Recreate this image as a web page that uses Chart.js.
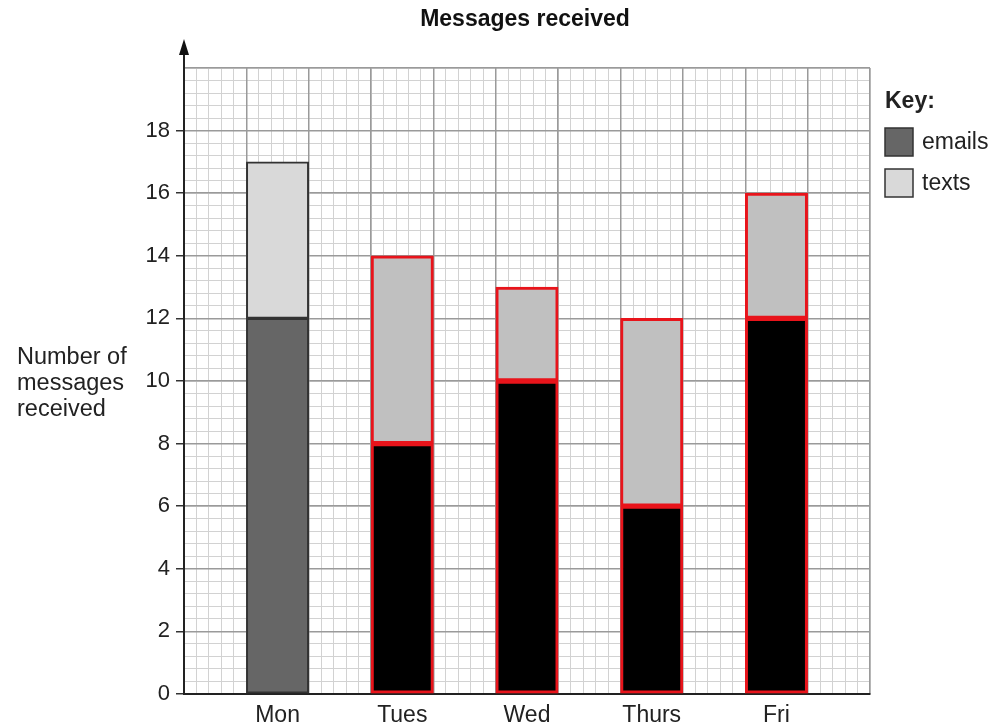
<!DOCTYPE html>
<html>
<head>
<meta charset="utf-8">
<script src="https://cdn.jsdelivr.net/npm/chart.js@4/dist/chart.umd.min.js"></script>
<style>
html,body{margin:0;padding:0;background:#fff;}
#wrap{width:1003px;height:728px;position:relative;}
</style>
</head>
<body>
<div id="wrap"><canvas id="c"></canvas></div>
<script>
// ---- data ----
const categories = ['Mon', 'Tues', 'Wed', 'Thurs', 'Fri'];
const emails = [12, 8, 10, 6, 12];
const texts = [5, 6, 3, 6, 4];
const yTickValues = [0, 2, 4, 6, 8, 10, 12, 14, 16, 18];
const chartTitle = 'Messages received';
const yTitleLines = ['Number of', 'messages', 'received'];
const keyTitle = 'Key:';
const keyLabels = ['emails', 'texts'];

// ---- layout helpers (slots: gap, bar, gap, bar ...) ----
const slotLabels = [];
const emailSlots = [];
const textSlots = [];
for (let i = 0; i < categories.length * 2 + 1; i++) {
  if (i % 2 === 1) {
    const k = (i - 1) / 2;
    slotLabels.push(categories[k]);
    emailSlots.push(emails[k]);
    textSlots.push(texts[k]);
  } else {
    slotLabels.push('');
    emailSlots.push(null);
    textSlots.push(null);
  }
}
const isGiven = (i) => i === 1; // Mon is the printed bar, others are drawn answers
const emailFill = slotLabels.map((_, i) => isGiven(i) ? '#666666' : '#000000');
const textFill = slotLabels.map((_, i) => isGiven(i) ? '#d9d9d9' : '#c0c0c0');
const edge = slotLabels.map((_, i) => isGiven(i) ? '#333333' : '#e8141b');
const edgeW = slotLabels.map((_, i) => isGiven(i) ? 2 : 3);

const FONT = '"Liberation Sans", Arial, Helvetica, sans-serif';

const decor = {
  id: 'decor',
  afterDraw(chart) {
    const ctx = chart.ctx;
    const a = chart.chartArea;
    ctx.save();
    // axis arrow
    ctx.strokeStyle = '#222';
    ctx.lineWidth = 2;
    ctx.beginPath();
    ctx.moveTo(a.left, a.top);
    ctx.lineTo(a.left, 50);
    ctx.stroke();
    ctx.fillStyle = '#111';
    ctx.beginPath();
    ctx.moveTo(a.left, 39);
    ctx.lineTo(a.left - 5, 55);
    ctx.lineTo(a.left + 5, 55);
    ctx.closePath();
    ctx.fill();
    // title
    ctx.fillStyle = '#111';
    ctx.font = 'bold 23px ' + FONT;
    ctx.textAlign = 'center';
    ctx.textBaseline = 'middle';
    ctx.fillText(chartTitle, 525, 20);
    // y title
    ctx.font = '23.5px ' + FONT;
    ctx.textAlign = 'left';
    ctx.fillStyle = '#222';
    yTitleLines.forEach((t, i) => ctx.fillText(t, 17, 358 + i * 26));
    // key
    ctx.font = 'bold 23px ' + FONT;
    ctx.fillText(keyTitle, 885, 102);
    const keyFill = ['#666666', '#d9d9d9'];
    ctx.font = '23px ' + FONT;
    keyLabels.forEach((t, i) => {
      const y = 128 + i * 41;
      ctx.fillStyle = keyFill[i];
      ctx.fillRect(885, y, 28, 28);
      ctx.strokeStyle = '#333';
      ctx.lineWidth = 1.5;
      ctx.strokeRect(885, y, 28, 28);
      ctx.fillStyle = '#222';
      ctx.fillText(t, 922, y + 15);
    });
    ctx.restore();
  }
};

new Chart(document.getElementById('c'), {
  type: 'bar',
  data: {
    labels: slotLabels,
    datasets: [
      {
        label: keyLabels[0],
        data: emailSlots,
        backgroundColor: emailFill,
        borderColor: edge,
        borderWidth: edgeW,
        borderSkipped: false,
        barPercentage: 1,
        categoryPercentage: 1,
        xAxisID: 'x', yAxisID: 'y'
      },
      {
        label: keyLabels[1],
        data: textSlots,
        backgroundColor: textFill,
        borderColor: edge,
        borderWidth: edgeW,
        borderSkipped: false,
        barPercentage: 1,
        categoryPercentage: 1,
        xAxisID: 'x', yAxisID: 'y'
      }
    ]
  },
  options: {
    responsive: true,
    maintainAspectRatio: false,
    animation: false,
    layout: { padding: { top: 68, right: 133, bottom: 0, left: 0 } },
    plugins: { legend: { display: false }, title: { display: false }, tooltip: { enabled: false } },
    scales: {
      xMinor: {
        type: 'linear', position: 'bottom', min: 0, max: 55, z: -2, offset: false,
        ticks: { display: false, stepSize: 1, autoSkip: false },
        grid: { color: '#d2d2d2', lineWidth: 1, drawTicks: false, offset: false },
        border: { display: false },
        afterFit(s) { s.height = 0; }
      },
      yMinor: {
        type: 'linear', position: 'left', min: 0, max: 50, z: -2, offset: false,
        ticks: { display: false, stepSize: 1, autoSkip: false },
        grid: { color: '#d2d2d2', lineWidth: 1, drawTicks: false, offset: false },
        border: { display: false },
        afterFit(s) { s.width = 0; }
      },
      xMajor: {
        type: 'linear', position: 'bottom', min: 0, max: 11, z: -1, offset: false,
        ticks: { display: false, stepSize: 1, autoSkip: false },
        grid: { color: '#9a9a9a', lineWidth: 1.5, drawTicks: false, offset: false },
        border: { display: true, color: '#222', width: 2 },
        afterFit(s) { s.height = 0; }
      },
      x: {
        type: 'category', position: 'bottom', stacked: true, offset: true,
        grid: { display: false, drawTicks: false },
        border: { display: false },
        ticks: { autoSkip: false, maxRotation: 0, padding: 8, color: '#222', font: { family: FONT, size: 23 } },
        afterFit(s) { s.height = 34; }
      },
      y: {
        type: 'linear', position: 'left', stacked: true, min: 0, max: 20,
        afterBuildTicks(s) { s.ticks = yTickValues.concat([20]).map(v => ({ value: v })); },
        ticks: {
          padding: 6, color: '#222', font: { family: FONT, size: 22 },
          callback: (v) => yTickValues.includes(v) ? String(v) : ''
        },
        grid: {
          color: '#9a9a9a', lineWidth: 1.5, drawTicks: true, tickLength: 8,
          tickColor: (c) => (c.tick && c.tick.value === 20) ? 'rgba(0,0,0,0)' : '#333'
        },
        border: { display: true, color: '#222', width: 2 },
        afterFit(s) { s.width = 184; }
      }
    }
  },
  plugins: [decor]
});
</script>
</body>
</html>
